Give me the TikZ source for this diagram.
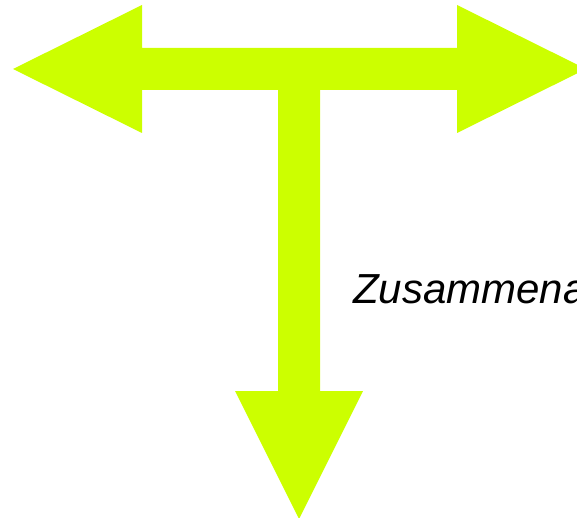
\documentclass[tikz,border=0pt]{standalone}
\usepackage{fontspec}
\setmainfont{Liberation Sans}
\definecolor{lime}{RGB}{204,255,0}
\usetikzlibrary{positioning}

\begin{document}
\begin{tikzpicture}[x=1pt,y=-1pt,
  tarrow/.style={fill=lime,draw=none},
  lbl/.style={font=\fontsize{42}{50}\selectfont\itshape,anchor=base west,inner sep=0pt}]
  \useasboundingbox (0,0) rectangle (577,518);
  % T-shaped arrow, three heads
  \fill[tarrow] (13,69) -- (142,5) -- (142,48) -- (457,48) -- (457,5)
    -- (586,69) -- (457,133) -- (457,90) -- (320,90) -- (320,391)
    -- (363,391) -- (299,519) -- (235,391) -- (278,391) -- (278,90)
    -- (142,90) -- (142,133) -- cycle;
  % label, cut by the right edge
  \node[lbl] (zus) at (353,303) {Zusammena};
\end{tikzpicture}
\end{document}
